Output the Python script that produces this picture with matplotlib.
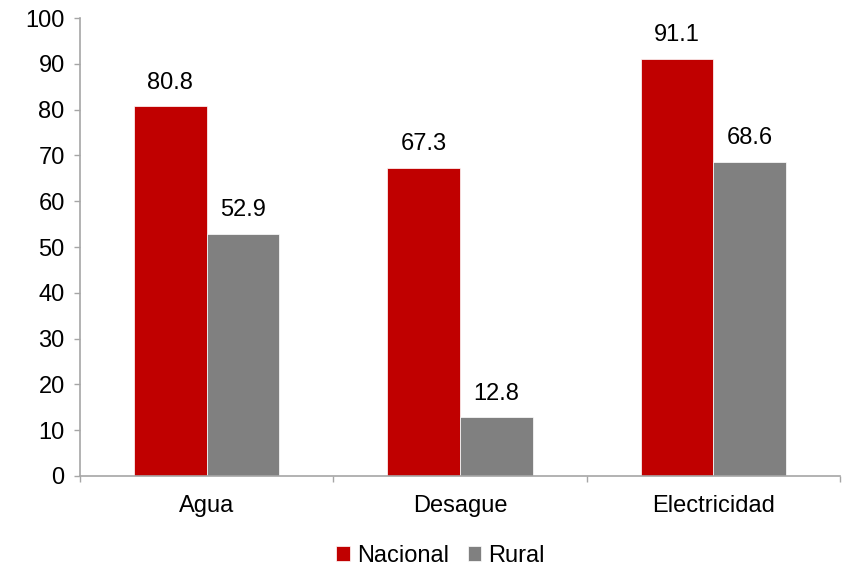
import numpy as np
import matplotlib.pyplot as plt

plt.rcParams['font.family'] = ['Liberation Sans', 'DejaVu Sans']

categories = ['Agua', 'Desague', 'Electricidad']
nacional = [80.8, 67.3, 91.1]
rural = [52.9, 12.8, 68.6]

red = '#C00000'
gray = '#808080'
axis_col = '#A6A6A6'
fs = 17

fig = plt.figure(figsize=(8.48, 5.67), dpi=100)
ax = fig.add_axes([0.0943, 0.1605, 0.8963, 0.8075])

x = np.arange(len(categories))
w = 0.287
b1 = ax.bar(x - w/2, nacional, w, color=red, edgecolor='white', linewidth=0.5, label='Nacional')
b2 = ax.bar(x + w/2, rural, w, color=gray, edgecolor='white', linewidth=0.5, label='Rural')

for bars, vals in [(b1, nacional), (b2, rural)]:
    for bar, v in zip(bars, vals):
        ax.annotate('%.1f' % v, (bar.get_x() + bar.get_width()/2, v),
                    xytext=(0, 9), textcoords='offset points',
                    ha='center', va='bottom', fontsize=fs)

ax.set_xlim(-0.5, 2.5)
ax.set_ylim(0, 100)
ax.set_yticks(range(0, 101, 10))
ax.tick_params(axis='y', labelsize=fs, color=axis_col, length=4, width=1, pad=7)
ax.set_xticks(x)
ax.set_xticklabels(categories, fontsize=fs)
ax.tick_params(axis='x', length=0, pad=14)
ax.set_xticks([-0.5, 0.5, 1.5, 2.5], minor=True)
ax.tick_params(axis='x', which='minor', length=4, color=axis_col, width=1)

for s in ['top', 'right']:
    ax.spines[s].set_visible(False)
for s in ['left', 'bottom']:
    ax.spines[s].set_color(axis_col)
    ax.spines[s].set_linewidth(1.2)

fig.legend(handles=[b1, b2], labels=['Nacional', 'Rural'], loc='center',
           bbox_to_anchor=(0.5195, 0.02), ncol=2, frameon=False, fontsize=fs,
           handlelength=0.58, handleheight=0.62, handletextpad=0.3, columnspacing=0.8,
           borderpad=0)

plt.savefig('out.png', dpi=100)
